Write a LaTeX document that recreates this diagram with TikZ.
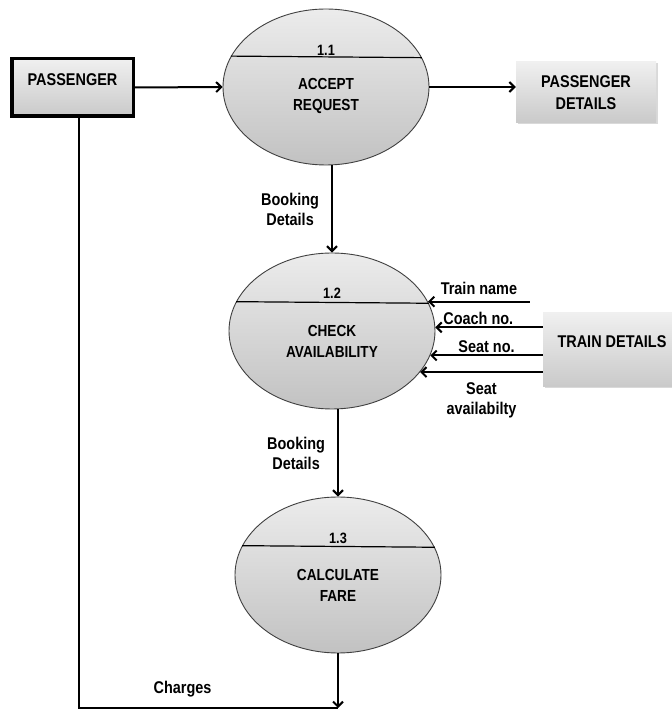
\documentclass[tikz,border=0pt]{standalone}
\usepackage{fontspec}
\setmainfont{Liberation Sans}[FakeStretch=0.85]
\usetikzlibrary{arrows.meta, shapes.geometric, shadows}

\begin{document}
\begin{tikzpicture}[>={Straight Barb[length=5pt,width=10pt]}, x=1pt, y=1pt,
    flow/.style={->, line width=2pt},
    process/.style={ellipse, draw=black!75, line width=0.9pt, top color=gray!15, bottom color=gray!48,
        minimum width=206pt, minimum height=156pt, inner sep=0pt},
    ptext/.style={align=center, font=\bfseries\fontsize{16}{21}\selectfont},
    pnum/.style={font=\bfseries\fontsize{15}{17}\selectfont},
    extbox/.style={top color=gray!12, bottom color=gray!42, align=center,
        drop shadow={opacity=0.3, shadow xshift=1.5pt, shadow yshift=-1.5pt},
        font=\bfseries\fontsize{17}{22}\selectfont},
    lbl/.style={align=center, inner sep=2pt, font=\bfseries\fontsize{17}{20}\selectfont}]
    \useasboundingbox (0,0) rectangle (672,713);

    % external entities
    \node[extbox, draw=black, line width=3.5pt, minimum width=121.5pt, minimum height=57.5pt,
        text height=12pt, text depth=16.6pt, inner sep=0pt] (pass) at (72.5,625.5) {PASSENGER};
    \node[extbox, minimum width=140pt, minimum height=61pt] (pdet) at (586,620.5) {PASSENGER\\DETAILS};
    \node[extbox, minimum width=138pt, minimum height=74pt,
        text height=12.5pt, text depth=17pt, inner sep=0pt] (tdet) at (612,363) {TRAIN DETAILS};

    % processes
    \node[process] (p11) at (326,626) {};
    \draw[line width=1.2pt] (p11.162.4) -- (p11.17.6);
    \node[pnum] (p11num) at ([yshift=37pt]p11.center) {1.1};
    \node[ptext] (p11txt) at ([yshift=-9pt]p11.center) {ACCEPT\\REQUEST};

    \node[process] (p12) at (332,382) {};
    \draw[line width=1.2pt] (p12.163.8) -- (p12.16.2);
    \node[pnum] (p12num) at ([yshift=38pt]p12.center) {1.2};
    \node[ptext] (p12txt) at ([yshift=-10.5pt]p12.center) {CHECK\\AVAILABILITY};

    \node[process] (p13) at (338,138) {};
    \draw[line width=1.2pt] (p13.163.7) -- (p13.16.3);
    \node[pnum] (p13num) at ([yshift=37pt]p13.center) {1.3};
    \node[ptext] (p13txt) at ([yshift=-10pt]p13.center) {CALCULATE\\FARE};

    % flows
    \draw[flow] (pass.east) -- (p11.west);
    \draw[flow] (p11.east) -- (p11.east -| pdet.west);
    \draw[flow] (p12.north |- p11.south) -- (p12.north) node[lbl, left=10pt, midway] {Booking\\Details};
    \draw[flow] (p13.north |- p12.south) -- (p13.north) node[lbl, left=10pt, midway] {Booking\\Details};

    \coordinate (tname) at ([xshift=102pt]p12.17);
    \draw[flow] (tname) -- (p12.17) node[lbl, above=4pt, midway] {Train name};
    \draw[flow] (tdet.west |- p12.2) -- (p12.2) node[lbl, above, pos=0.6] {Coach no.};
    \draw[flow] (tdet.west |- p12.-14) -- (p12.-14) node[lbl, above, midway] {Seat no.};
    \draw[flow] (tdet.west |- p12.-25) -- (p12.-25) node[lbl, below=8pt, midway] {Seat\\availabilty};

    \coordinate (corner) at (79,5);
    \draw[line width=2pt] (pass.south -| corner) -- (corner) -- (p13.south |- corner)
        node[lbl, above=8pt, pos=0.4] {Charges};
    \draw[flow] (p13.south) -- (p13.south |- corner);
\end{tikzpicture}
\end{document}
